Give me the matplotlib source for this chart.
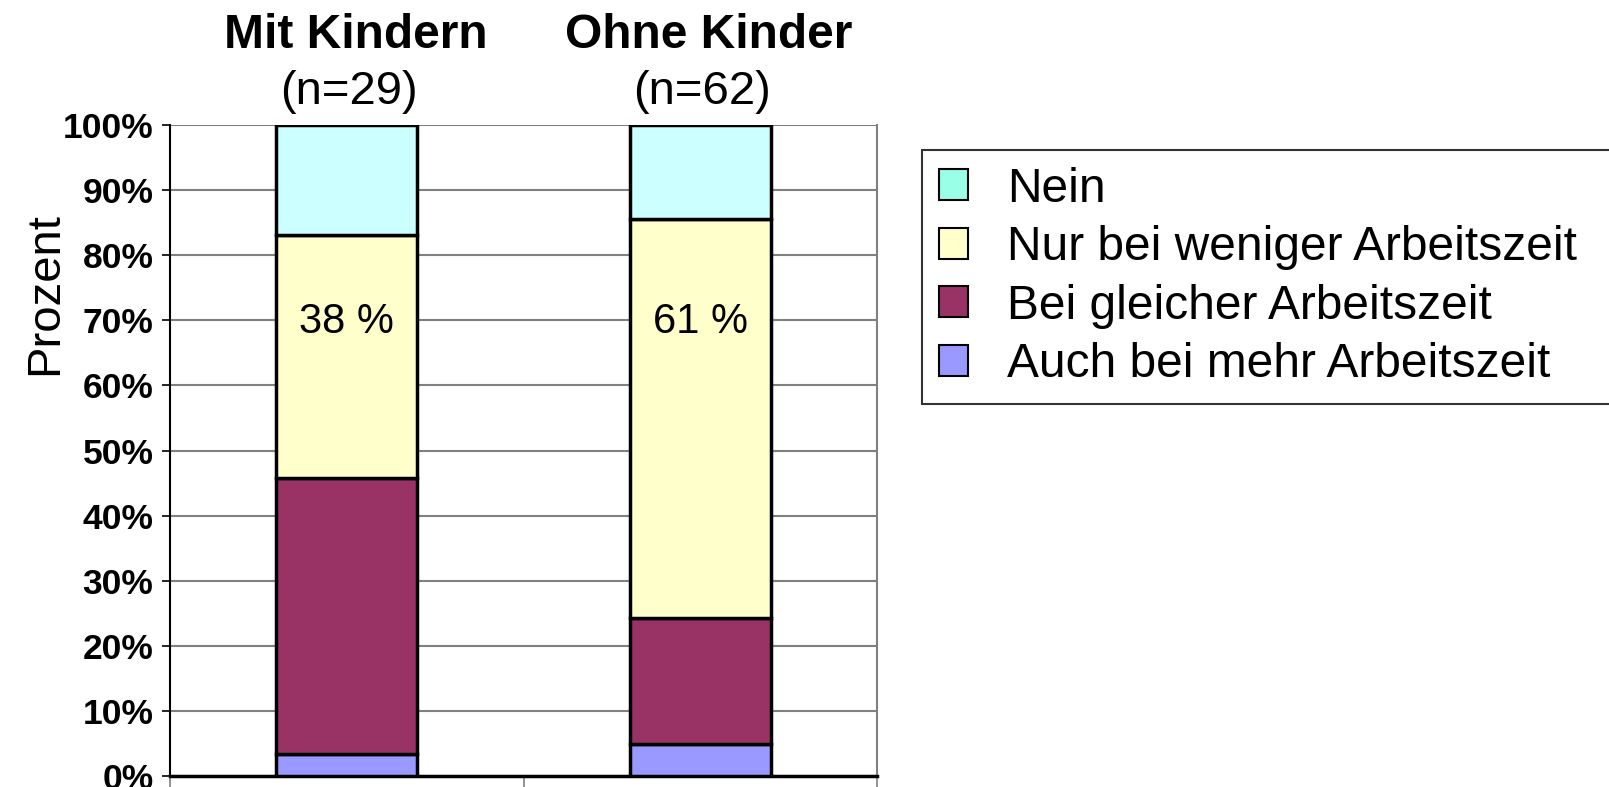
import matplotlib.pyplot as plt
import numpy as np
from matplotlib.patches import Patch

plt.rcParams["font.family"] = ["Liberation Sans", "DejaVu Sans"]

groups = ["Mit Kindern", "Ohne Kinder"]
group_n = ["(n=29)", "(n=62)"]
answers = [
    "Auch bei mehr Arbeitszeit",
    "Bei gleicher Arbeitszeit",
    "Nur bei weniger Arbeitszeit",
    "Nein",
]
# Prozentwerte je Gruppe, von unten nach oben
auch_mehr = [3.4, 4.9]
gleich = [42.3, 19.3]
weniger = [37.4, 61.3]
nein = [16.9, 14.5]
bar_labels = ["38 %", "61 %"]

bar_colors = ["#9999FF", "#993366", "#FFFFCC", "#CCFFFF"]
legend_colors = ["#9999FF", "#993366", "#FFFFCC", "#99FFE6"]

fig = plt.figure(figsize=(16.09, 7.87), dpi=100)
ax = fig.add_axes([170 / 1609, 11 / 787, 707 / 1609, 651 / 787])

x = np.arange(len(groups))
bottom = np.zeros(len(groups))
for vals, col in zip([auch_mehr, gleich, weniger, nein], bar_colors):
    ax.bar(x, vals, width=0.4, bottom=bottom, color=col,
           edgecolor="black", linewidth=2.5, zorder=3)
    bottom += np.array(vals)

ax.set_xlim(-0.5, 1.5)
ax.set_ylim(0, 100)
ax.set_yticks(np.arange(0, 101, 10))
ax.set_yticklabels([f"{v}%" for v in range(0, 101, 10)],
                   fontsize=25.5, fontweight="bold")
ax.yaxis.grid(True, color="#808080", linewidth=1.5, zorder=0)
ax.set_axisbelow(True)

ax.set_xticks([])
ax.set_xticks([-0.5, 0.5, 1.5], minor=True)
ax.tick_params(axis="x", which="minor", length=8, width=1.2, color="#808080")
ax.tick_params(axis="y", length=6, width=1.2, pad=6, color="black")

ax.spines["left"].set_color("black")
ax.spines["left"].set_linewidth(1.5)
ax.spines["bottom"].set_color("black")
ax.spines["bottom"].set_linewidth(2.5)
ax.spines["right"].set_color("#808080")
ax.spines["right"].set_linewidth(1.5)
ax.spines["top"].set_visible(False)

trans = ax.get_xaxis_transform()
for i in range(len(groups)):
    ax.text(x[i] + 0.025, 1.118, groups[i], transform=trans, ha="center",
            va="baseline", fontsize=34.5, fontweight="bold")
    ax.text(x[i] + 0.005, 1.032, group_n[i], transform=trans, ha="center",
            va="baseline", fontsize=34)
    ax.text(x[i], 68, bar_labels[i], ha="center", va="baseline",
            fontsize=30, zorder=4)

fig.text(45 / 1609, 1 - 294 / 787, "Prozent", rotation=90,
         ha="center", va="center", fontsize=34)

handles = [Patch(facecolor=c, edgecolor="black", linewidth=1.5)
           for c in legend_colors[::-1]]
leg = fig.legend(handles, answers[::-1], loc="upper left",
                 bbox_to_anchor=(922 / 1609, 1 - 150 / 787, 0.45, 0.0),
                 mode="expand", fontsize=34.5, frameon=True, fancybox=False,
                 edgecolor="black", handlelength=0.62, handleheight=0.62,
                 handletextpad=0.8, labelspacing=0.28, borderpad=0.35,
                 borderaxespad=0)
leg.get_frame().set_linewidth(1.5)

fig.savefig("out.png", dpi=100)
